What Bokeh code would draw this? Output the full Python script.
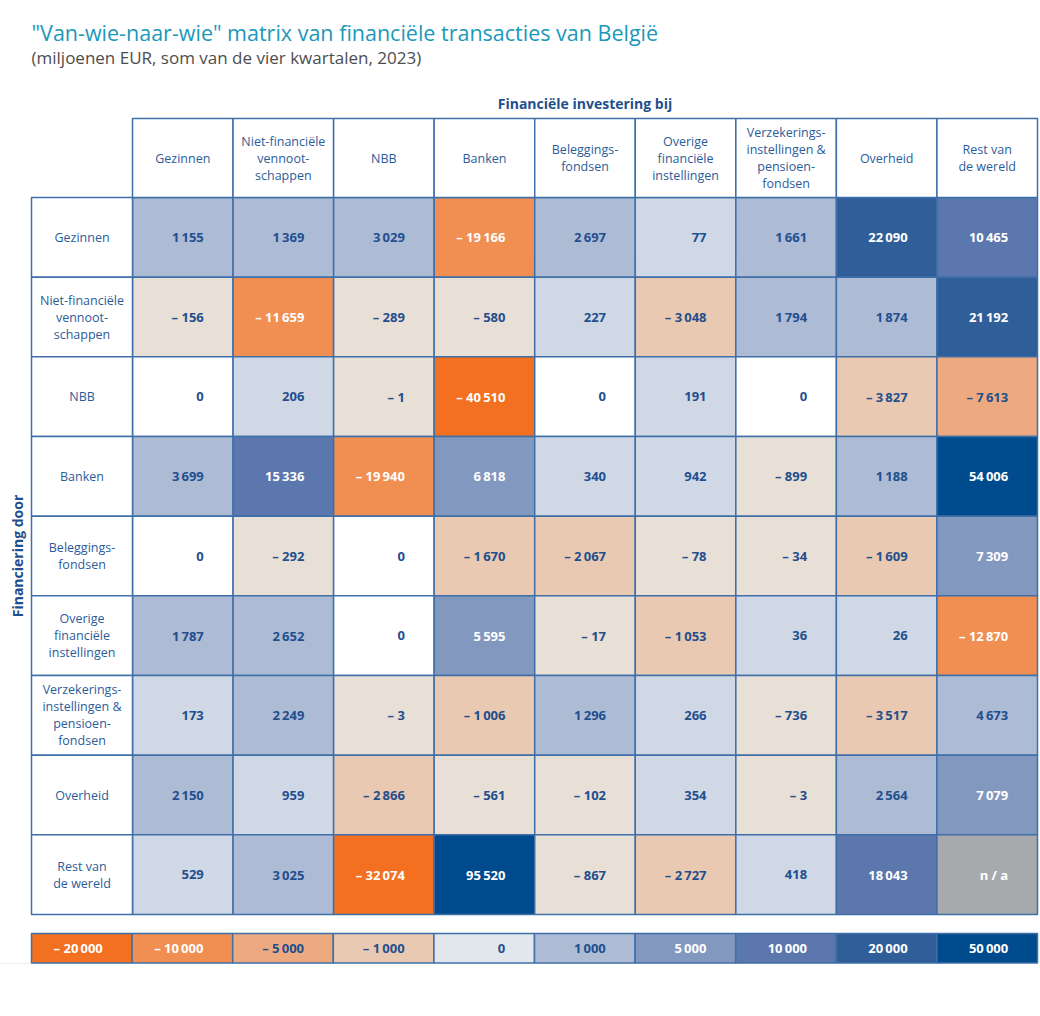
from bokeh.plotting import figure
from bokeh.models import Range1d, ColumnDataSource
from bokeh.core.properties import value
from bokeh.embed import file_html
from bokeh.resources import INLINE
import math

# ---------------- data ----------------
title = "\"Van-wie-naar-wie\" matrix van financiële transacties van België"
subtitle = "(miljoenen EUR, som van de vier kwartalen, 2023)"
col_title = "Financiële investering bij"
row_title = "Financiering door"

columns = ["Gezinnen", "Niet-financiële\nvennoot-\nschappen", "NBB", "Banken",
           "Beleggings-\nfondsen", "Overige\nfinanciële\ninstellingen",
           "Verzekerings-\ninstellingen &\npensioen-\nfondsen", "Overheid",
           "Rest van\nde wereld"]
rows = columns

gezinnen = [1155, 1369, 3029, -19166, 2697, 77, 1661, 22090, 10465]
niet_fin = [-156, -11659, -289, -580, 227, -3048, 1794, 1874, 21192]
nbb = [0, 206, -1, -40510, 0, 191, 0, -3827, -7613]
banken = [3699, 15336, -19940, 6818, 340, 942, -899, 1188, 54006]
beleggingsfondsen = [0, -292, 0, -1670, -2067, -78, -34, -1609, 7309]
overige_fin = [1787, 2652, 0, 5595, -17, -1053, 36, 26, -12870]
verzekering = [173, 2249, -3, -1006, 1296, 266, -736, -3517, 4673]
overheid = [2150, 959, -2866, -561, -102, 354, -3, 2564, 7079]
rest_wereld = [529, 3025, -32074, 95520, -867, -2727, 418, 18043, None]
matrix = [gezinnen, niet_fin, nbb, banken, beleggingsfondsen, overige_fin,
          verzekering, overheid, rest_wereld]

legend_values = [-20000, -10000, -5000, -1000, 0, 1000, 5000, 10000, 20000, 50000]
legend_colors = ["#F37021", "#F18F52", "#EDAA80", "#E9C9B1", "#E1E7EC",
                 "#ADBBD5", "#8398BF", "#5B77AD", "#305E99", "#004B8D"]
small_pos_color = "#D0D8E5"
small_neg_color = "#E8DFD6"
zero_color = "#FFFFFF"
na_color = "#A7A9AC"

# ---------------- styles / layout ----------------
W, H = 1040, 1000
FONT = "Open Sans"
BLUE_TXT = "#1F4F8E"
HEAD_TXT = "#2B5C9A"
GRID = "#3E6FA8"

X0 = 31.0          # left edge of row header column
GX = 132.0         # left edge of data grid
CW = (1037.0 - 132.0) / 9
HY0 = 118.0        # top of column header row
GY = 197.0         # top of data grid
RH = (914.0 - 197.0) / 9
LY0, LY1 = 933.0, 962.5


def cell_color(v):
    if v is None:
        return na_color
    if v == 0:
        return zero_color
    if 0 < v < 1000:
        return small_pos_color
    if -1000 < v < 0:
        return small_neg_color
    if v > 0:
        c = legend_colors[5]
        for t, col in zip(legend_values, legend_colors):
            if t > 0 and v >= t:
                c = col
        return c
    for t, col in zip(legend_values, legend_colors):
        if t < 0 and v <= t:
            return col
    return small_neg_color


def text_color(v):
    if v is None or v >= 5000 or v <= -10000:
        return "#FFFFFF"
    return BLUE_TXT


def fmt(v):
    if v is None:
        return "n / a"
    s = f"{abs(v):,}".replace(",", "\u2009")
    return ("\u2013 " + s) if v < 0 else s


p = figure(width=W, height=H, output_backend="svg", toolbar_location=None,
           x_range=Range1d(0, W), y_range=Range1d(H, 0),
           min_border=0, outline_line_color=None)
p.axis.visible = False
p.grid.visible = False
p.background_fill_color = "white"
p.border_fill_color = "white"

NUM_SIZE = "13px"
HEAD_SIZE = "12.5px"

# data cells
L, R, T, B, C, TX, TY, TXT, TC = [], [], [], [], [], [], [], [], []
for i, row in enumerate(matrix):
    for j, v in enumerate(row):
        L.append(GX + j * CW); R.append(GX + (j + 1) * CW)
        T.append(GY + i * RH); B.append(GY + (i + 1) * RH)
        C.append(cell_color(v))
        TX.append(GX + (j + 0.5) * CW + 21); TY.append(GY + (i + 0.5) * RH)
        TXT.append(fmt(v)); TC.append(text_color(v))
cells = ColumnDataSource(dict(left=L, right=R, top=T, bottom=B, color=C,
                              tx=TX, ty=TY, txt=TXT, tc=TC))
p.quad(left="left", right="right", top="top", bottom="bottom", source=cells,
       fill_color="color", line_color=GRID, line_width=1.5)
p.text(x="tx", y="ty", text="txt", source=cells, text_color="tc",
       text_align="right", text_baseline="middle", text_font=value(FONT),
       text_font_style="bold", text_font_size=NUM_SIZE)

# column headers
ch = ColumnDataSource(dict(
    left=[GX + j * CW for j in range(9)], right=[GX + (j + 1) * CW for j in range(9)],
    top=[HY0] * 9, bottom=[GY] * 9,
    tx=[GX + (j + 0.5) * CW for j in range(9)], ty=[(HY0 + GY) / 2] * 9,
    txt=columns))
p.quad(left="left", right="right", top="top", bottom="bottom", source=ch,
       fill_color="white", line_color=GRID, line_width=1.5)
p.text(x="tx", y="ty", text="txt", source=ch, text_color=HEAD_TXT,
       text_align="center", text_baseline="middle", text_font=value(FONT),
       text_font_size=HEAD_SIZE, text_line_height=1.0)

# row headers
rh = ColumnDataSource(dict(
    left=[X0] * 9, right=[GX] * 9,
    top=[GY + i * RH for i in range(9)], bottom=[GY + (i + 1) * RH for i in range(9)],
    tx=[(X0 + GX) / 2] * 9, ty=[GY + (i + 0.5) * RH for i in range(9)],
    txt=rows))
p.quad(left="left", right="right", top="top", bottom="bottom", source=rh,
       fill_color="white", line_color=GRID, line_width=1.5)
p.text(x="tx", y="ty", text="txt", source=rh, text_color=HEAD_TXT,
       text_align="center", text_baseline="middle", text_font=value(FONT),
       text_font_size=HEAD_SIZE, text_line_height=1.0)

# legend bar
LW = (1037.0 - X0) / len(legend_values)
lg = ColumnDataSource(dict(
    left=[X0 + k * LW for k in range(10)], right=[X0 + (k + 1) * LW for k in range(10)],
    top=[LY0] * 10, bottom=[LY1] * 10, color=legend_colors,
    tx=[X0 + (k + 0.5) * LW + 21 for k in range(10)], ty=[(LY0 + LY1) / 2] * 10,
    txt=[fmt(v) for v in legend_values],
    tc=["#FFFFFF" if (v >= 5000 or v <= -10000) else BLUE_TXT for v in legend_values]))
p.line(x=[0, X0], y=[LY1 + 0.5, LY1 + 0.5], line_color="#E8F0F2", line_width=1)
p.quad(left="left", right="right", top="top", bottom="bottom", source=lg,
       fill_color="color", line_color=GRID, line_width=1.5)
p.text(x="tx", y="ty", text="txt", source=lg, text_color="tc",
       text_align="right", text_baseline="middle", text_font=value(FONT),
       text_font_style="bold", text_font_size=NUM_SIZE)

# titles
p.text(x=[X0], y=[32], text=[title], text_color="#1A98B9", text_font=value(FONT),
       text_font_size="21.5px", text_baseline="middle", text_align="left")
p.text(x=[X0], y=[57], text=[subtitle], text_color="#4D4D4D", text_font=value(FONT),
       text_font_size="17px", text_baseline="middle", text_align="left")
p.text(x=[(GX + GX + 9 * CW) / 2], y=[103], text=[col_title], text_color=BLUE_TXT,
       text_font=value(FONT), text_font_style="bold", text_font_size="14px",
       text_baseline="middle", text_align="center")
p.text(x=[17], y=[(GY + GY + 9 * RH) / 2], text=[row_title], text_color=BLUE_TXT,
       text_font=value(FONT), text_font_style="bold", text_font_size="14px",
       text_baseline="middle", text_align="center", angle=math.pi / 2)

open("out.html", "w").write(file_html(p, INLINE))
